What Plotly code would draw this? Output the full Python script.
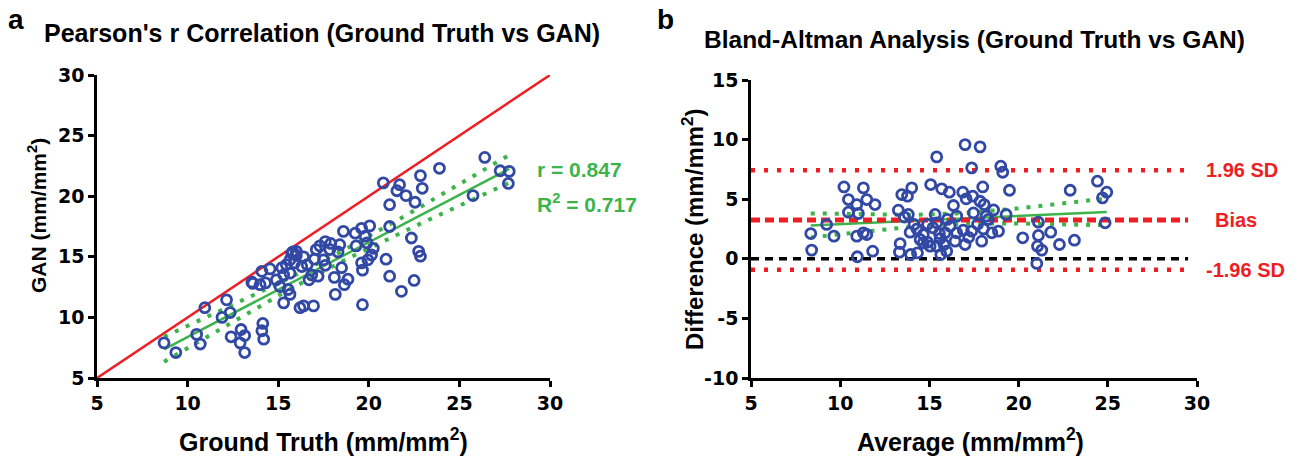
import numpy as np
import plotly.graph_objects as go

# ---------------- data ----------------
gt = [8.7, 9.35, 10.5, 10.7, 10.95, 11.9, 12.15, 12.35, 12.4, 12.95, 13.15, 12.9, 13.15, 14.1, 14.15, 14.2,
      13.55, 14.0, 14.1, 14.55, 14.9, 15.1, 15.3, 15.45, 15.65, 15.75, 16.0, 15.65, 15.55, 15.65, 15.3, 16.2,
      16.4, 16.95, 16.4, 16.6, 16.85, 17.1, 17.2, 17.5, 17.6, 17.85, 18.15, 18.4, 18.5, 18.65, 18.85, 18.6,
      19.25, 19.6, 20.05, 19.8, 19.9, 20.25, 20.15, 19.95, 19.6, 19.65, 19.65, 20.8, 21.15, 21.15, 20.95, 21.15,
      21.7, 21.55, 22.05, 21.8, 22.35, 22.55, 22.75, 22.85, 22.5, 22.85, 22.95, 23.9, 25.75, 26.4, 27.25, 27.75,
      27.7, 15.8, 16.0, 15.2, 15.9, 16.3, 17.0, 17.9, 18.3, 17.3, 16.7, 18.1, 14.3, 13.6, 17.6, 19.3]
gan = [7.9, 7.1, 8.6, 7.8, 10.8, 10.0, 11.45, 10.4, 8.4, 9.0, 8.5, 7.9, 7.1, 8.9, 9.5, 8.2,
       12.9, 12.7, 13.8, 14.0, 13.1, 12.55, 13.5, 14.35, 14.75, 15.3, 15.45, 13.65, 12.3, 11.9, 11.2, 10.8,
       10.95, 10.95, 15.0, 14.35, 13.5, 15.6, 13.4, 14.75, 16.25, 15.6, 11.9, 16.0, 14.1, 12.7, 13.15, 17.1,
       16.95, 17.35, 17.55, 16.7, 16.15, 15.7, 15.15, 14.75, 14.5, 13.9, 11.05, 21.1, 19.3, 17.5, 14.8, 13.4,
       20.95, 20.45, 20.05, 12.15, 16.55, 19.5, 15.45, 15.05, 13.05, 21.7, 20.65, 22.3, 20.05, 23.2, 22.1, 22.05,
       21.05, 15.4, 15.1, 14.1, 14.5, 14.2, 14.8, 16.1, 15.4, 15.9, 13.1, 13.3, 12.85, 12.8, 14.3, 15.9]

ba_avg = [8.35, 8.4, 9.24, 9.65, 10.21, 10.46, 10.93, 10.46, 11.02, 10.93, 10.96, 11.3, 11.49, 11.3, 11.49, 11.95,
          11.82, 13.26, 13.45, 13.77, 14.01, 13.82, 13.36, 13.32, 13.92, 13.95, 14.33, 14.14, 14.66, 14.48, 14.89,
          15.07, 15.32, 15.41, 15.41, 15.56, 15.04, 15.41, 15.64, 15.82, 15.69, 16.12, 16.16, 16.35, 16.44, 16.53,
          16.87, 17.06, 17.0, 17.0, 17.37, 17.43, 17.37, 17.84, 17.84, 18.07, 17.99, 17.93, 18.18, 18.03, 18.5,
          18.87, 19.0, 19.11, 19.49, 19.3, 20.23, 21.11, 21.11, 21.06, 21.3, 21.02, 21.8, 22.29, 22.89, 23.13,
          24.42, 24.7, 24.94, 24.85, 14.66, 15.88, 17.47, 15.97, 16.53, 15.2, 16.0, 14.3, 17.7, 18.3, 15.6,
          16.9, 14.9, 17.2, 13.6, 18.6]
ba_diff = [2.12, 0.73, 2.88, 1.9, 6.03, 4.97, 4.55, 3.91, 3.8, 1.9, 0.17, 5.95, 4.97, 2.18, 2.04, 4.55,
           0.64, 4.08, 5.39, 5.25, 5.95, 3.72, 1.28, 0.56, 2.23, 0.36, 0.5, 2.88, 2.04, 1.62, 1.4,
           6.23, 3.72, 3.02, 8.55, 2.12, 1.06, 1.06, 0.36, 1.2, 5.87, 5.59, 2.74, 4.47, 1.48, 2.18,
           5.59, 5.03, 9.58, 1.2, 7.63, 5.25, 2.32, 9.39, 4.83, 4.55, 6.03, 1.48, 3.58, 2.51, 2.18,
           2.32, 7.77, 7.26, 5.75, 3.72, 1.76, 3.07, 1.96, 1.06, 0.73, -0.39, 2.23, 1.2, 5.75, 1.56,
           6.51, 5.11, 5.59, 3.02, 1.34, 2.18, 3.85, 0.64, 3.58, 2.6, 3.3, 2.5, 2.9, 3.3, 1.7,
           2.4, 2.9, 1.8, 3.5, 4.1]

identity = [5, 30]
bias = 3.25
sd = 2.13
line_x = [5, 29.5]
r_text = "r = 0.847"
r2_text = "R<sup>2</sup> = 0.717"
ticks_a = [5, 10, 15, 20, 25, 30]
ticks_a_text = ["5", "10", "15", "20", "25", "30"]
ticks_b_y = [-10, -5, 0, 5, 10, 15]
ticks_b_y_text = ["-10", "-5", "0", "5", "10", "15"]

BLUE = "rgb(50,72,165)"
GREEN = "rgb(60,180,75)"
RED = "rgb(237,30,36)"
FONT = "Liberation Sans"
TICKFONT = "DejaVu Sans"


def fit_with_ci(x, y, n_pts=60):
    x = np.asarray(x, float)
    y = np.asarray(y, float)
    n = len(x)
    slope, inter = np.polyfit(x, y, 1)
    res = y - (slope * x + inter)
    s = np.sqrt(np.sum(res ** 2) / (n - 2))
    xs = np.linspace(x.min(), x.max(), n_pts)
    yf = slope * xs + inter
    se = s * np.sqrt(1.0 / n + (xs - x.mean()) ** 2 / np.sum((x - x.mean()) ** 2))
    t = 1.985
    return xs, yf, yf + t * se, yf - t * se


def bold(labels):
    return ["<b>%s</b>" % t for t in labels]


fig = go.Figure()
MARK = dict(symbol="circle-open", size=10, color=BLUE, line=dict(width=2.8, color=BLUE))

# ---------------- panel a ----------------
xs, yf, up, lo = fit_with_ci(gt, gan)
fig.add_trace(go.Scatter(x=identity, y=identity, mode="lines", line=dict(color=RED, width=2.5),
                         xaxis="x", yaxis="y", showlegend=False))
for band in (up, lo):
    fig.add_trace(go.Scatter(x=xs, y=band, mode="lines", line=dict(color=GREEN, width=4, dash="4px,8px"),
                             xaxis="x", yaxis="y", showlegend=False))
fig.add_trace(go.Scatter(x=[xs[0], xs[-1]], y=[yf[0], yf[-1]], mode="lines", line=dict(color=GREEN, width=2.5),
                         xaxis="x", yaxis="y", showlegend=False))
fig.add_trace(go.Scatter(x=gt, y=gan, mode="markers", marker=MARK, xaxis="x", yaxis="y", showlegend=False))

# ---------------- panel b ----------------
upper = bias + 1.96 * sd
lower = bias - 1.96 * sd
fig.add_trace(go.Scatter(x=line_x, y=[upper, upper], mode="lines", line=dict(color=RED, width=4.5, dash="4px,9px"),
                         xaxis="x2", yaxis="y2", showlegend=False))
fig.add_trace(go.Scatter(x=line_x, y=[lower, lower], mode="lines", line=dict(color=RED, width=4.5, dash="4px,9px"),
                         xaxis="x2", yaxis="y2", showlegend=False))
fig.add_trace(go.Scatter(x=line_x, y=[0, 0], mode="lines", line=dict(color="black", width=3.5, dash="8px,6px"),
                         xaxis="x2", yaxis="y2", showlegend=False))
bx, byf, bup, blo = fit_with_ci(ba_avg, ba_diff)
for band in (bup, blo):
    fig.add_trace(go.Scatter(x=bx, y=band, mode="lines", line=dict(color=GREEN, width=4, dash="4px,8px"),
                             xaxis="x2", yaxis="y2", showlegend=False))
fig.add_trace(go.Scatter(x=[bx[0], bx[-1]], y=[byf[0], byf[-1]], mode="lines", line=dict(color=GREEN, width=2.5),
                         xaxis="x2", yaxis="y2", showlegend=False))
fig.add_trace(go.Scatter(x=line_x, y=[bias, bias], mode="lines", line=dict(color=RED, width=5, dash="9px,5px"),
                         xaxis="x2", yaxis="y2", showlegend=False))
fig.add_trace(go.Scatter(x=ba_avg, y=ba_diff, mode="markers", marker=MARK, xaxis="x2", yaxis="y2",
                         showlegend=False))

W, H = 1299, 462


def px(x):
    return x / W


def py(y):
    return 1 - y / H


axis_common = dict(showline=True, linewidth=2.5, linecolor="black", ticks="outside", ticklen=6, tickwidth=2.5,
                   tickcolor="black", showgrid=False, zeroline=False,
                   tickfont=dict(family=TICKFONT, size=19, color="black"))

fig.update_layout(
    width=W, height=H, margin=dict(l=0, r=0, t=0, b=0, autoexpand=False),
    paper_bgcolor="white", plot_bgcolor="white",
    xaxis=dict(domain=[px(97), px(550)], range=[5, 30], tickvals=ticks_a, ticktext=bold(ticks_a_text),
               anchor="y", **axis_common),
    yaxis=dict(domain=[py(378), py(75)], range=[5, 30], tickvals=ticks_a, ticktext=bold(ticks_a_text),
               anchor="x", **axis_common),
    xaxis2=dict(domain=[px(751), px(1197)], range=[5, 30], tickvals=ticks_a, ticktext=bold(ticks_a_text),
                anchor="y2", **axis_common),
    yaxis2=dict(domain=[py(378), py(80)], range=[-10, 15], tickvals=ticks_b_y, ticktext=bold(ticks_b_y_text),
                anchor="x2", **axis_common),
)


def ann(text, x, y, size, color="black", angle=0, xanchor="center"):
    fig.add_annotation(text="<b>%s</b>" % text, x=px(x), y=py(y), xref="paper", yref="paper", showarrow=False,
                       xanchor=xanchor, yanchor="middle", textangle=angle,
                       font=dict(family=FONT, size=size, color=color))


ann("a", 16, 20, 28)
ann("b", 665, 20, 28)
ann("Pearson's r Correlation (Ground Truth vs GAN)", 322, 33, 25)
ann("Bland-Altman Analysis (Ground Truth vs GAN)", 974, 40, 24.5)
ann("Ground Truth (mm/mm<sup>2</sup>)", 323, 440, 25)
ann("GAN (mm/mm<sup>2</sup>)", 37, 216, 21, angle=-90)
ann("Average (mm/mm<sup>2</sup>)", 970, 440, 25)
ann("Difference (mm/mm<sup>2</sup>)", 693, 230, 24, angle=-90)
ann(r_text, 535, 169, 21, GREEN, xanchor="left")
ann(r2_text, 535, 203, 21, GREEN, xanchor="left")
ann("1.96 SD", 1204, 170, 20, RED, xanchor="left")
ann("Bias", 1213, 220, 20, RED, xanchor="left")
ann("-1.96 SD", 1204, 270, 20, RED, xanchor="left")

fig.write_html("out.html")
